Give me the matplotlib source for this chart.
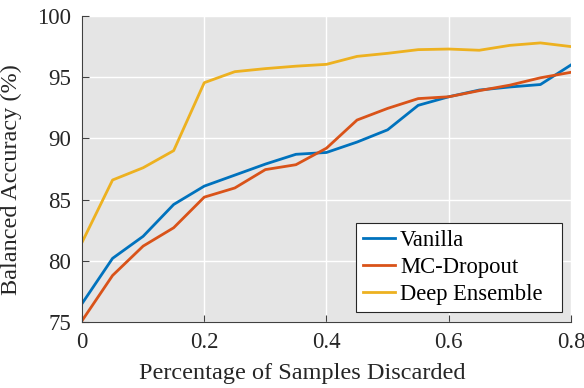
import matplotlib
matplotlib.use("Agg")
import matplotlib.pyplot as plt

x = [0, 0.05, 0.1, 0.15, 0.2, 0.25, 0.3, 0.35, 0.4, 0.45, 0.5, 0.55, 0.6, 0.65, 0.7, 0.75, 0.8]
vanilla = [76.5, 80.2, 82.0, 84.6, 86.1, 87.0, 87.9, 88.7, 88.85, 89.7, 90.7, 92.7, 93.4, 93.95, 94.2, 94.4, 96.0]
mc_dropout = [75.1, 78.8, 81.2, 82.7, 85.2, 85.95, 87.45, 87.85, 89.2, 91.5, 92.45, 93.25, 93.4, 93.9, 94.35, 94.95, 95.4]
deep_ensemble = [81.5, 86.6, 87.6, 89.0, 94.55, 95.45, 95.7, 95.9, 96.05, 96.7, 96.95, 97.25, 97.3, 97.2, 97.6, 97.8, 97.5]

labels = ["Vanilla", "MC-Dropout", "Deep Ensemble"]
colors = ["#0072BD", "#D95319", "#EDB120"]
xticks = [0, 0.2, 0.4, 0.6, 0.8]
xticklabels = ["0", "0.2", "0.4", "0.6", "0.8"]
yticks = [75, 80, 85, 90, 95, 100]

plt.rcParams['font.family'] = ['Liberation Serif', 'DejaVu Serif']

fig = plt.figure(figsize=(5.84, 3.88), dpi=100)
ax = fig.add_axes([0.1404, 0.1701, 0.8373, 0.7887])
ax.set_facecolor((0.898, 0.898, 0.898))

for series, lab, c in zip([vanilla, mc_dropout, deep_ensemble], labels, colors):
    ax.plot(x, series, color=c, lw=2.0, label=lab)

ax.set_xlim(0, 0.8)
ax.set_ylim(75, 100)
ax.set_xticks(xticks)
ax.set_xticklabels(xticklabels)
ax.set_yticks(yticks)
ax.grid(True, color='white', lw=1.0)
ax.set_axisbelow(True)
for s in ['top', 'right']:
    ax.spines[s].set_visible(False)
for s in ['left', 'bottom']:
    ax.spines[s].set_color((0.25, 0.25, 0.25))
    ax.spines[s].set_linewidth(0.8)
ax.tick_params(direction='in', length=5, width=0.8, color=(0.25, 0.25, 0.25),
               labelsize=16.5, labelcolor='#262626')
ax.tick_params(axis='y', pad=8)
ax.tick_params(axis='x', pad=7)

ax.set_xlabel("Percentage of Samples Discarded", fontsize=17.5, color='#262626')
ax.set_ylabel("Balanced Accuracy (%)", fontsize=17.5, color='#262626')
ax.xaxis.set_label_coords(0.45, -0.135)
ax.yaxis.set_label_coords(-0.122, 0.464)

leg = ax.legend(loc='lower left', bbox_to_anchor=(0.560, 0.0327, 0.422, 0.2),
                mode='expand', fontsize=16.3, fancybox=False, framealpha=1,
                edgecolor=(0.15, 0.15, 0.15), handlelength=1.45, handletextpad=0.2,
                borderpad=0.3, labelspacing=0.27, borderaxespad=0.0)
leg.get_frame().set_linewidth(0.8)

fig.savefig("out.png", dpi=100)
